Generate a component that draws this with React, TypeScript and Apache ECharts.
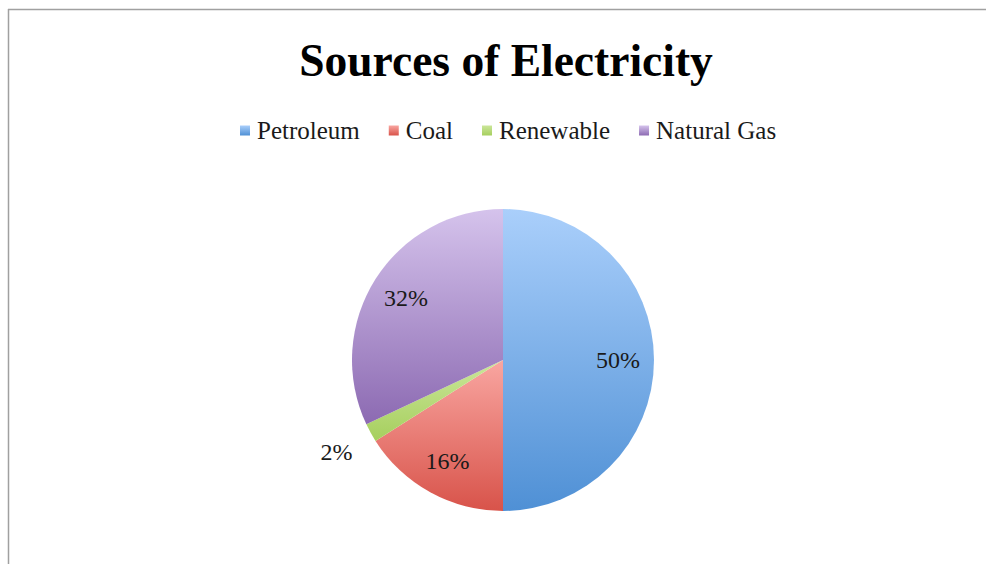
import React, { useEffect, useRef } from "react";
import * as echarts from "echarts";

const categories = ["Petroleum", "Coal", "Renewable", "Natural Gas"];
const values = [50, 16, 2, 32];
const percentLabels = ["50%", "16%", "2%", "32%"];
const topColors = ["#aacffb", "#f9a6a1", "#cbe69a", "#d5c3ec"];
const bottomColors = ["#4f90d5", "#d8534a", "#a6cf5e", "#8c6ab2"];
const outsideLabelItems = ["Renewable"];

const FONT = "Liberation Serif";

function grad(i: number) {
  return new echarts.graphic.LinearGradient(0, 0, 0, 1, [
    { offset: 0, color: topColors[i] },
    { offset: 1, color: bottomColors[i] },
  ]);
}

export default function App() {
  const ref = useRef<HTMLDivElement>(null);
  useEffect(() => {
    document.body.style.margin = "0";
    const chart = echarts.init(ref.current!, null, { renderer: "svg" });
    const baseData = categories.map((name, i) => ({
      name,
      value: values[i],
      itemStyle: { color: grad(i) },
    }));
    const overlayData = (inside: boolean) =>
      categories.map((name, i) => {
        const isOut = outsideLabelItems.includes(name);
        const show = inside ? !isOut : isOut;
        return {
          name,
          value: values[i],
          label: { show, formatter: percentLabels[i] },
        };
      });
    const overlayCommon = {
      type: "pie",
      center: [503, 360],
      startAngle: 90,
      clockwise: true,
      silent: true,
      legendHoverLink: false,
      itemStyle: { color: "rgba(0,0,0,0)", borderWidth: 0 },
      emphasis: { disabled: true },
      labelLine: { show: false },
      label: {
        position: "inside",
        fontFamily: FONT,
        fontSize: 24,
        color: "#1a1a1a",
      },
      z: 3,
    };
    chart.setOption({
      animation: false,
      backgroundColor: "#ffffff",
      title: {
        text: "Sources of Electricity",
        left: 501,
        top: 32,
        textAlign: "center",
        textStyle: {
          fontFamily: FONT,
          fontWeight: "bold",
          fontSize: 45.5,
          color: "#000000",
        },
      },
      legend: {
        data: categories,
        top: 118,
        left: 240,
        padding: 0,
        itemWidth: 10,
        itemHeight: 10,
        itemGap: 29,
        icon: "rect",
        textStyle: {
          fontFamily: FONT,
          fontSize: 25,
          color: "#1a1a1a",
          padding: [0, 0, 0, 2],
        },
      },
      graphic: [
        {
          type: "line",
          shape: { x1: 8, y1: 9.5, x2: 986, y2: 9.5 },
          style: { stroke: "#a0a0a0", lineWidth: 1.5 },
          silent: true,
        },
        {
          type: "line",
          shape: { x1: 8.5, y1: 9, x2: 8.5, y2: 564 },
          style: { stroke: "#a0a0a0", lineWidth: 1.5 },
          silent: true,
        },
      ],
      series: [
        {
          type: "pie",
          center: [503, 360],
          radius: [0, 151],
          startAngle: 90,
          clockwise: true,
          label: { show: false },
          labelLine: { show: false },
          emphasis: { disabled: true },
          data: baseData,
          z: 2,
        },
        {
          ...overlayCommon,
          radius: [72, 152],
          data: overlayData(true),
        },
        {
          ...overlayCommon,
          radius: [147, 227],
          data: overlayData(false),
        },
      ],
    });
    return () => chart.dispose();
  }, []);
  return <div ref={ref} style={{ width: 986, height: 564 }} />;
}
